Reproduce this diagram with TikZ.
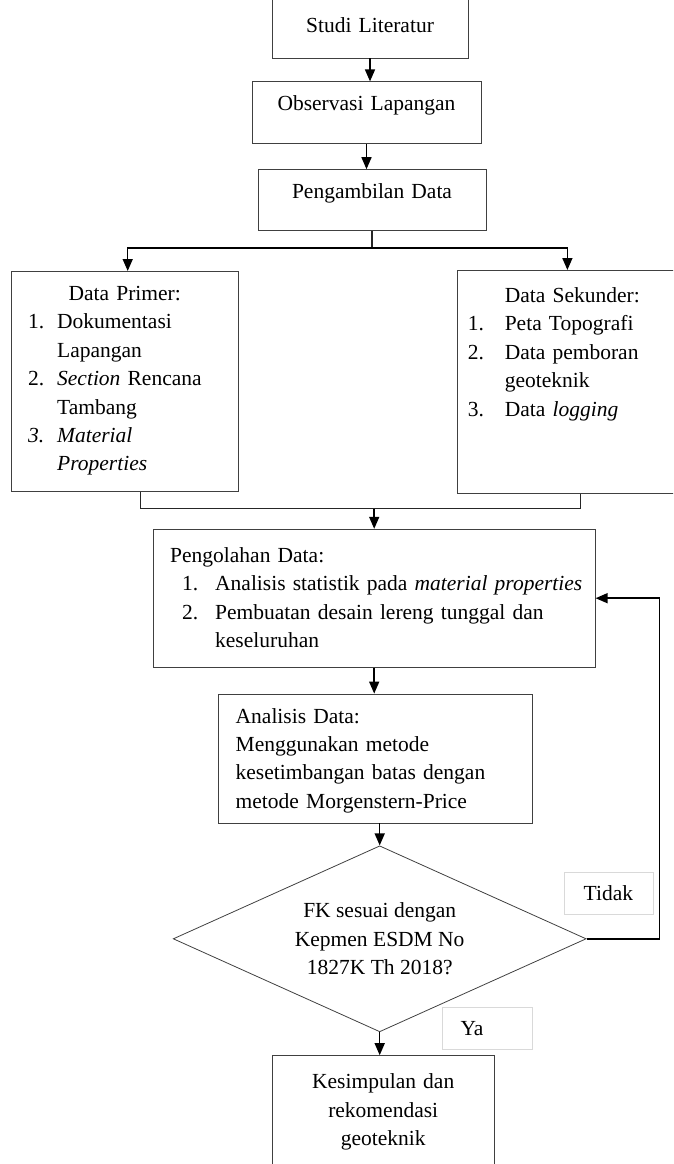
\documentclass[tikz,border=0pt]{standalone}
\usepackage{fontspec}
\setmainfont{Liberation Serif}
\usetikzlibrary{positioning,arrows.meta,calc,shapes.geometric}
\tikzset{
  bx/.style={draw=black!75, line width=0.8pt, inner xsep=0pt, inner ysep=0pt, align=center, font=\fontsize{21.5}{28.4}\selectfont},
  lst/.style={bx, align=left},
  dec/.style={diamond, draw=black!75, line width=0.8pt, inner sep=0pt, aspect=2.22, minimum width=413pt, minimum height=186pt, align=center, font=\fontsize{21.5}{28.4}\selectfont},
  lbl/.style={draw=black!15, line width=0.6pt, inner sep=0pt, minimum height=42pt, font=\fontsize{21.5}{28.4}\selectfont},
  fl/.style={-{Triangle[length=12pt,width=10pt]}, line width=1.5pt},
  ln/.style={line width=1.1pt, black!85},
}
\begin{document}
\begin{tikzpicture}[x=1pt, y=-1pt, node distance=24pt]
\useasboundingbox (0,0) rectangle (673,1164);
\clip (0,0) rectangle (673,1164);
\node[bx, text width=196pt, text height=36pt, text depth=25pt] (studi) at (370,27.5) {Studi Literatur};
\node[bx, text width=229pt, text height=29pt, text depth=33pt, below=23pt of studi, xshift=-3.5pt] (obs) {Observasi Lapangan};
\node[bx, text width=228pt, text height=29pt, text depth=32pt, below=25pt of obs, xshift=5.5pt] (peng) {Pengambilan Data};
\node[lst, text width=193pt, inner xsep=17pt, text height=29pt, text depth=191pt, below left=40pt and 19pt of peng] (prim) {\makebox[\linewidth]{Data Primer:}\\
  \makebox[29pt][l]{1.}Dokumentasi\\
  \hspace*{29pt}Lapangan\\
  \makebox[29pt][l]{2.}\textit{Section} Rencana\\
  \hspace*{29pt}Tambang\\
  \makebox[29pt][l]{\textit{3.}}\textit{Material}\\
  \hspace*{29pt}\textit{Properties}};
\node[lst, text width=213pt, inner xsep=10pt, text height=32pt, text depth=191pt, below right=39pt and -29pt of peng] (sek) {\hspace*{37pt}Data Sekunder:\\
  \makebox[37pt][l]{1.}Peta Topografi\\
  \makebox[37pt][l]{2.}Data pemboran\\
  \hspace*{37pt}geoteknik\\
  \makebox[37pt][l]{3.}Data \textit{logging}};
\node[lst, text width=408pt, inner xsep=17pt, text height=33pt, text depth=105pt, below=37pt of prim, xshift=249.5pt] (olah) {Pengolahan Data:\\
  \hspace*{12pt}\makebox[33pt][l]{1.}\mbox{Analisis statistik pada \textit{material properties}}\\
  \hspace*{12pt}\makebox[33pt][l]{2.}\mbox{Pembuatan desain lereng tunggal dan}\\
  \hspace*{45pt}keseluruhan};
\node[lst, text width=280pt, inner xsep=17pt, text height=29pt, text depth=100pt, below=26pt of olah, xshift=1.5pt] (anl) {Analisis Data:\\
  Menggunakan metode\\
  kesetimbangan batas dengan\\
  metode Morgenstern-Price};
\node[dec, below=22pt of anl, xshift=4pt] (dia) {FK sesuai dengan\\Kepmen ESDM No\\1827K Th 2018?};
\node[lbl, minimum width=89pt, above right=24pt and -23pt of dia.east] (tdk) {Tidak};
\node[lbl, text width=54pt, inner xsep=18pt, align=left, below right=-25pt and 62.5pt of dia.south] (ya) {Ya};
\node[bx, text width=222pt, text height=33pt, text depth=85pt, below=23pt of dia, xshift=3.5pt] (kes) {Kesimpulan dan\\rekomendasi\\geoteknik};
\draw[fl] (studi.south) -- (studi.south |- obs.north);
\draw[fl] (obs.south) -- (obs.south |- peng.north);
\draw[ln] (peng.south) -- ++(0,17) coordinate (sp);
\draw[fl] (sp) -| ($(prim.north)+(3,0)$);
\draw[fl] (sp) -| ($(sek.north west)+(110,0)$);
\draw[ln] ($(prim.south)+(16,0)$) -- ++(0,17) coordinate (jn) -| ($(sek.south west)+(123,0)$);
\draw[fl] (jn -| olah.north) -- (olah.north);
\draw[fl] (olah.south) -- (olah.south |- anl.north);
\draw[fl] (dia.north |- anl.south) -- (dia.north);
\draw[fl] (dia.south) -- (dia.south |- kes.north);
\draw[fl] (dia.east) -- ++(73,0) |- (olah.east);
\end{tikzpicture}
\end{document}
